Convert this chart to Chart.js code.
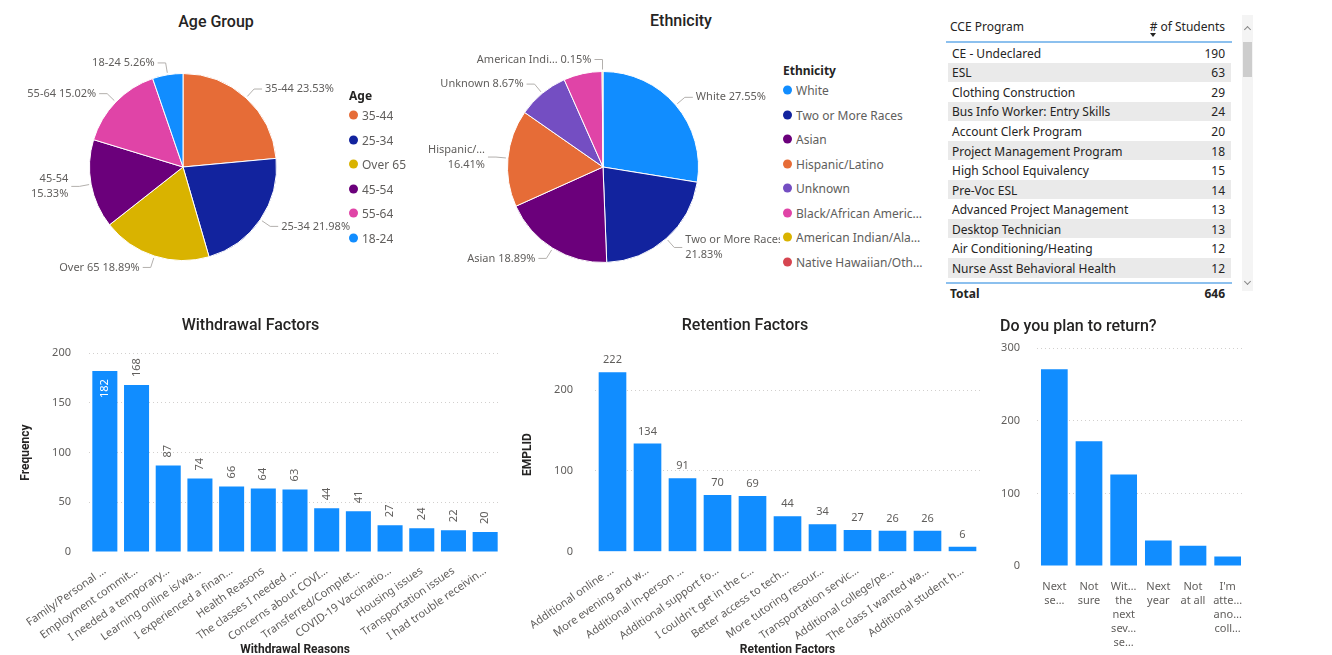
<!DOCTYPE html>
<html>
<head>
<meta charset="utf-8">
<script src="https://cdn.jsdelivr.net/npm/chart.js@4.4.1/dist/chart.umd.min.js"></script>
<style>
  body { margin: 0; background: #fff; font-family: 'Noto Sans', sans-serif; color: #605E5C; }
  #page { position: relative; width: 1332px; height: 655px; overflow: hidden; }
  .box { position: absolute; }
  .vtitle { position: absolute; font-family: Roboto, sans-serif; font-weight: 500; font-size: 16px; color: #252423; white-space: nowrap; transform: translate(-50%, -50%); }
  .lg { position: absolute; font-size: 12px; color: #605E5C; white-space: nowrap; }
  .lg .head { position: absolute; left: 0; font-weight: 700; color: #252423; transform: translateY(-50%); }
  .lg .item { position: absolute; left: 0; transform: translateY(-50%); display: flex; align-items: center; }
  .lg .dot { width: 9px; height: 9px; border-radius: 50%; margin-right: 4px; flex: none; }
  .lg .txt { overflow: hidden; text-overflow: ellipsis; }
  .cell { position: absolute; font-size: 12px; color: #252423; white-space: nowrap; transform: translateY(-50%); }
  .row { position: absolute; left: 948px; width: 283px; }
  .bluel { position: absolute; left: 946px; width: 286px; height: 2px; background: #8CC0EE; }
</style>
</head>
<body>
<div id="page">
  <div class="vtitle" style="left:216px; top:21px;">Age Group</div>
  <div class="vtitle" style="left:681px; top:20px;">Ethnicity</div>
  <div class="box" style="left:0; top:0; width:366px; height:300px;"><canvas id="ageChart"></canvas></div>
  <div class="box" style="left:420px; top:0; width:360px; height:300px;"><canvas id="ethnicChart"></canvas></div>
  <div id="ageLegend" class="lg" style="left:349px; top:0;"></div>
  <div id="ethnicLegend" class="lg" style="left:783px; top:0;"></div>
  <div id="table"></div>
  <div class="box" style="left:0; top:310px; width:520px; height:345px;"><canvas id="withdrawChart"></canvas></div>
  <div class="box" style="left:510px; top:310px; width:490px; height:345px;"><canvas id="retentionChart"></canvas></div>
  <div class="box" style="left:1000px; top:310px; width:265px; height:345px;"><canvas id="returnChart"></canvas></div>
</div>
<script>
// ---- data ----
var ageLabels = ['35-44', '25-34', 'Over 65', '45-54', '55-64', '18-24'];
var agePct = [23.53, 21.98, 18.89, 15.33, 15.02, 5.26];

var ethnicLabels = ['White', 'Two or More Races', 'Asian', 'Hispanic/Latino', 'Unknown',
  'Black/African American', 'American Indian/Alaska Native', 'Native Hawaiian/Other Pacific Islander'];
var ethnicShort = ['White', 'Two or More Races', 'Asian', 'Hispanic/…', 'Unknown', '', 'American Indi…', ''];
var ethnicPct = [27.55, 21.83, 18.89, 16.41, 8.67, 6.50, 0.15, 0];

var programs = ['CE - Undeclared', 'ESL', 'Clothing Construction', 'Bus Info Worker: Entry Skills',
  'Account Clerk Program', 'Project Management Program', 'High School Equivalency', 'Pre-Voc ESL',
  'Advanced Project Management', 'Desktop Technician', 'Air Conditioning/Heating', 'Nurse Asst Behavioral Health'];
var programStudents = [190, 63, 29, 24, 20, 18, 15, 14, 13, 13, 12, 12];
var programTotal = 646;

var withdrawLabels = ['Family/Personal …', 'Employment commit…', 'I needed a temporary…', 'Learning online is/wa…',
  'I experienced a finan…', 'Health Reasons', 'The classes I needed …', 'Concerns about COVI…',
  'Transferred/Complet…', 'COVID-19 Vaccinatio…', 'Housing issues', 'Transportation issues', 'I had trouble receivin…'];
var withdrawValues = [182, 168, 87, 74, 66, 64, 63, 44, 41, 27, 24, 22, 20];

var retentionLabels = ['Additional online …', 'More evening and w…', 'Additional in-person …', 'Additional support fo…',
  "I couldn't get in the c…", 'Better access to tech…', 'More tutoring resour…', 'Transportation servic…',
  'Additional college/pe…', 'The class I wanted wa…', 'Additional student h…'];
var retentionValues = [222, 134, 91, 70, 69, 44, 34, 27, 26, 26, 6];

var returnLabels = [['Next', 'se…'], ['Not', 'sure'], ['Wit…', 'the', 'next', 'sev…', 'se…'],
  ['Next', 'year'], ['Not', 'at all'], ["I'm", 'atte…', 'ano…', 'coll…']];
var returnValues = [271, 172, 126, 35, 28, 13];

// ---- styles ----
var ageColors = ['#E66C37', '#12239E', '#D9B300', '#6B007B', '#E044A7', '#118DFF'];
var ethnicColors = ['#118DFF', '#12239E', '#6B007B', '#E66C37', '#744EC2', '#E044A7', '#D9B300', '#D64550'];
var barColor = '#118DFF';
var gray = '#605E5C';
var dark = '#252423';

Chart.defaults.font.family = "'Noto Sans', sans-serif";
Chart.defaults.color = gray;

// labels with leader lines outside the pie
var pieLabels = {
  id: 'pieLabels',
  afterDatasetsDraw: function (chart, args, opts) {
    var ctx = chart.ctx;
    var vals = chart.data.datasets[0].data;
    ctx.save();
    ctx.font = '11px "Noto Sans"';
    ctx.textBaseline = 'middle';
    chart.getDatasetMeta(0).data.forEach(function (arc, i) {
      var name = opts.names[i];
      if (!name || !vals[i]) return;
      var mid = (arc.startAngle + arc.endAngle) / 2;
      var r = arc.outerRadius;
      var c = Math.cos(mid), s = Math.sin(mid);
      var right = c >= 0;
      var x0 = arc.x + c * (r + 2), y0 = arc.y + s * (r + 2);
      var x1 = arc.x + c * (r + 12), y1 = arc.y + s * (r + 12);
      var x2 = x1 + (right ? 8 : -8);
      ctx.strokeStyle = '#B3B0AD';
      ctx.lineWidth = 1;
      ctx.beginPath();
      ctx.moveTo(x0, y0); ctx.lineTo(x1, y1); ctx.lineTo(x2, y1);
      ctx.stroke();
      var pct = vals[i].toFixed(2) + '%';
      var lines = opts.wrap.indexOf(i) >= 0 ? [name, pct] : [name + ' ' + pct];
      ctx.fillStyle = gray;
      ctx.textAlign = right ? 'left' : 'right';
      var tx = x2 + (right ? 3 : -3);
      var ty = y1 - (lines.length - 1) * 7.5;
      lines.forEach(function (l, k) { ctx.fillText(l, tx, ty + k * 15); });
    });
    ctx.restore();
  }
};

// value labels on bars
var barLabels = {
  id: 'barLabels',
  afterDatasetsDraw: function (chart, args, opts) {
    if (!opts.show) return;
    var ctx = chart.ctx, area = chart.chartArea;
    var vals = chart.data.datasets[0].data;
    ctx.save();
    ctx.font = '11px "Noto Sans"';
    ctx.textBaseline = 'middle';
    chart.getDatasetMeta(0).data.forEach(function (bar, i) {
      var txt = String(vals[i]);
      if (opts.vertical) {
        var w = ctx.measureText(txt).width;
        var inside = bar.y - area.top < w + 8;
        ctx.save();
        ctx.translate(bar.x, inside ? bar.y + 8 : bar.y - 8);
        ctx.rotate(-Math.PI / 2);
        ctx.textAlign = inside ? 'right' : 'left';
        ctx.fillStyle = inside ? '#fff' : gray;
        ctx.fillText(txt, 0, 0);
        ctx.restore();
      } else {
        ctx.textAlign = 'center';
        ctx.fillStyle = gray;
        ctx.fillText(txt, bar.x, bar.y - 12);
      }
    });
    ctx.restore();
  }
};

function pieChart(id, labels, values, colors, names, wrap, padding) {
  return new Chart(document.getElementById(id), {
    type: 'pie',
    data: {
      labels: labels,
      datasets: [{ data: values, backgroundColor: colors, borderColor: '#fff', borderWidth: 1 }]
    },
    options: {
      responsive: true,
      maintainAspectRatio: false,
      animation: false,
      layout: { padding: padding },
      plugins: {
        legend: { display: false },
        tooltip: { enabled: false },
        pieLabels: { names: names, wrap: wrap }
      }
    },
    plugins: [pieLabels]
  });
}

function htmlLegend(id, title, names, colors, titleY, firstY, textWidth) {
  var el = document.getElementById(id);
  var html = '<div class="head" style="top:' + titleY + 'px">' + title + '</div>';
  names.forEach(function (n, i) {
    html += '<div class="item" style="top:' + (firstY + i * 24.5) + 'px"><span class="dot" style="background:' +
      colors[i] + '"></span><span class="txt" style="max-width:' + textWidth + 'px">' + n + '</span></div>';
  });
  el.innerHTML = html;
}

function barChart(id, o) {
  return new Chart(document.getElementById(id), {
    type: 'bar',
    data: {
      labels: o.labels,
      datasets: [{ data: o.values, backgroundColor: barColor, barPercentage: o.bar, categoryPercentage: 1 }]
    },
    options: {
      responsive: true,
      maintainAspectRatio: false,
      animation: false,
      layout: { padding: { left: 0, right: o.padRight, top: 0, bottom: 0 } },
      plugins: {
        legend: { display: false },
        tooltip: { enabled: false },
        title: {
          display: true, text: o.title, align: o.titleAlign || 'center', color: dark,
          font: { family: 'Roboto', size: 16, weight: '500' },
          padding: o.titlePad
        },
        barLabels: { show: o.showLabels, vertical: o.vertical }
      },
      scales: {
        x: {
          grid: { display: false },
          border: { display: false },
          ticks: {
            autoSkip: false, minRotation: o.rotation, maxRotation: o.rotation,
            padding: o.xPad, color: gray, font: { size: 11, lineHeight: 1.27 }
          },
          title: {
            display: !!o.xTitle, text: o.xTitle, color: dark,
            font: { family: 'Roboto', size: 12, weight: 'bold' }, padding: { top: 0, bottom: -2 }
          },
          afterFit: function (s) { s.height = o.xHeight; }
        },
        y: {
          min: 0, max: o.max,
          grid: {
            drawTicks: false,
            color: function (c) { return c.tick.value === 0 ? 'rgba(0,0,0,0)' : '#D2D0CE'; }
          },
          border: { display: false, dash: [1, 3] },
          ticks: { stepSize: o.step, padding: o.yPad, color: gray, font: { size: 11 } },
          afterBuildTicks: function (s) {
            s.ticks = s.ticks.filter(function (t) { return t.value % o.step === 0; });
          },
          title: {
            display: !!o.yTitle, text: o.yTitle, color: dark,
            font: { family: 'Roboto', size: 12, weight: 'bold' }, padding: { top: o.yTitlePad, bottom: 0 }
          },
          afterFit: function (s) { s.width = o.yWidth; }
        }
      }
    },
    plugins: [barLabels]
  });
}

// ---- pies ----
pieChart('ageChart', ageLabels, agePct, ageColors, ageLabels, [3], { left: 89, right: 89, top: 73, bottom: 39 });
pieChart('ethnicChart', ethnicLabels, ethnicPct, ethnicColors, ethnicShort, [1, 3], { left: 87, right: 81, top: 71, bottom: 37 });
htmlLegend('ageLegend', 'Age', ageLabels, ageColors, 95, 115, 120);
htmlLegend('ethnicLegend', 'Ethnicity', ethnicLabels, ethnicColors, 70, 90, 128);

// ---- table ----
(function () {
  var t = document.getElementById('table');
  var h = '';
  h += '<div class="cell" style="left:950px; top:26px;">CCE Program</div>';
  h += '<div class="cell" style="left:1100px; width:125px; text-align:right; top:26px;"># of Students</div>';
  h += '<div style="position:absolute; left:1150px; top:33px; width:0; height:0; border-left:3.5px solid transparent; border-right:3.5px solid transparent; border-top:4px solid #252423;"></div>';
  h += '<div class="bluel" style="top:41px;"></div>';
  programs.forEach(function (p, i) {
    var top = 43 + i * 19.55;
    if (i % 2 === 1) h += '<div class="row" style="top:' + top + 'px; height:19.55px; background:#EAEAEA;"></div>';
    h += '<div class="cell" style="left:952px; top:' + (top + 9.8) + 'px;">' + p + '</div>';
    h += '<div class="cell" style="left:1150px; width:75px; text-align:right; top:' + (top + 9.8) + 'px;">' + programStudents[i] + '</div>';
  });
  h += '<div class="bluel" style="top:282px;"></div>';
  h += '<div class="cell" style="left:950px; top:293px; font-weight:700;">Total</div>';
  h += '<div class="cell" style="left:1150px; width:75px; text-align:right; top:293px; font-weight:700;">' + programTotal + '</div>';
  // scrollbar
  h += '<div style="position:absolute; left:1242px; top:15px; width:11px; height:276px; background:#F4F4F4;"></div>';
  h += '<div style="position:absolute; left:1243px; top:42px; width:9px; height:35px; background:#CDCDCD;"></div>';
  h += '<div style="position:absolute; left:1245px; top:27px; width:4px; height:4px; border-left:1px solid #888; border-top:1px solid #888; transform:rotate(45deg);"></div>';
  h += '<div style="position:absolute; left:1245px; top:279px; width:4px; height:4px; border-right:1px solid #888; border-bottom:1px solid #888; transform:rotate(45deg);"></div>';
  t.innerHTML = h;
})();

// ---- bars ----
barChart('withdrawChart', {
  labels: withdrawLabels, values: withdrawValues, title: 'Withdrawal Factors',
  titlePad: { top: 6, bottom: 18 }, max: 200, step: 50, yWidth: 89, yPad: 18,
  yTitle: 'Frequency', yTitlePad: 19, xTitle: 'Withdrawal Reasons', xHeight: 103,
  rotation: 35, xPad: 4, padRight: 19, bar: 0.79, showLabels: true, vertical: true
});
barChart('retentionChart', {
  labels: retentionLabels, values: retentionValues, title: 'Retention Factors',
  titlePad: { top: 6, bottom: 22.5 }, max: 240, step: 100, yWidth: 85, yPad: 22,
  yTitle: 'EMPLID', yTitlePad: 11, xTitle: 'Retention Factors', xHeight: 103.3,
  rotation: 35, xPad: 4, padRight: 20, bar: 0.79, showLabels: true, vertical: false
});
barChart('returnChart', {
  labels: returnLabels, values: returnValues, title: 'Do you plan to return?', titleAlign: 'start',
  titlePad: { top: 7, bottom: 12 }, max: 300, step: 100, yWidth: 37, yPad: 17,
  yTitle: '', yTitlePad: 0, xTitle: '', xHeight: 89,
  rotation: 0, xPad: 6, padRight: 20, bar: 0.77, showLabels: false, vertical: false
});
</script>
</body>
</html>
